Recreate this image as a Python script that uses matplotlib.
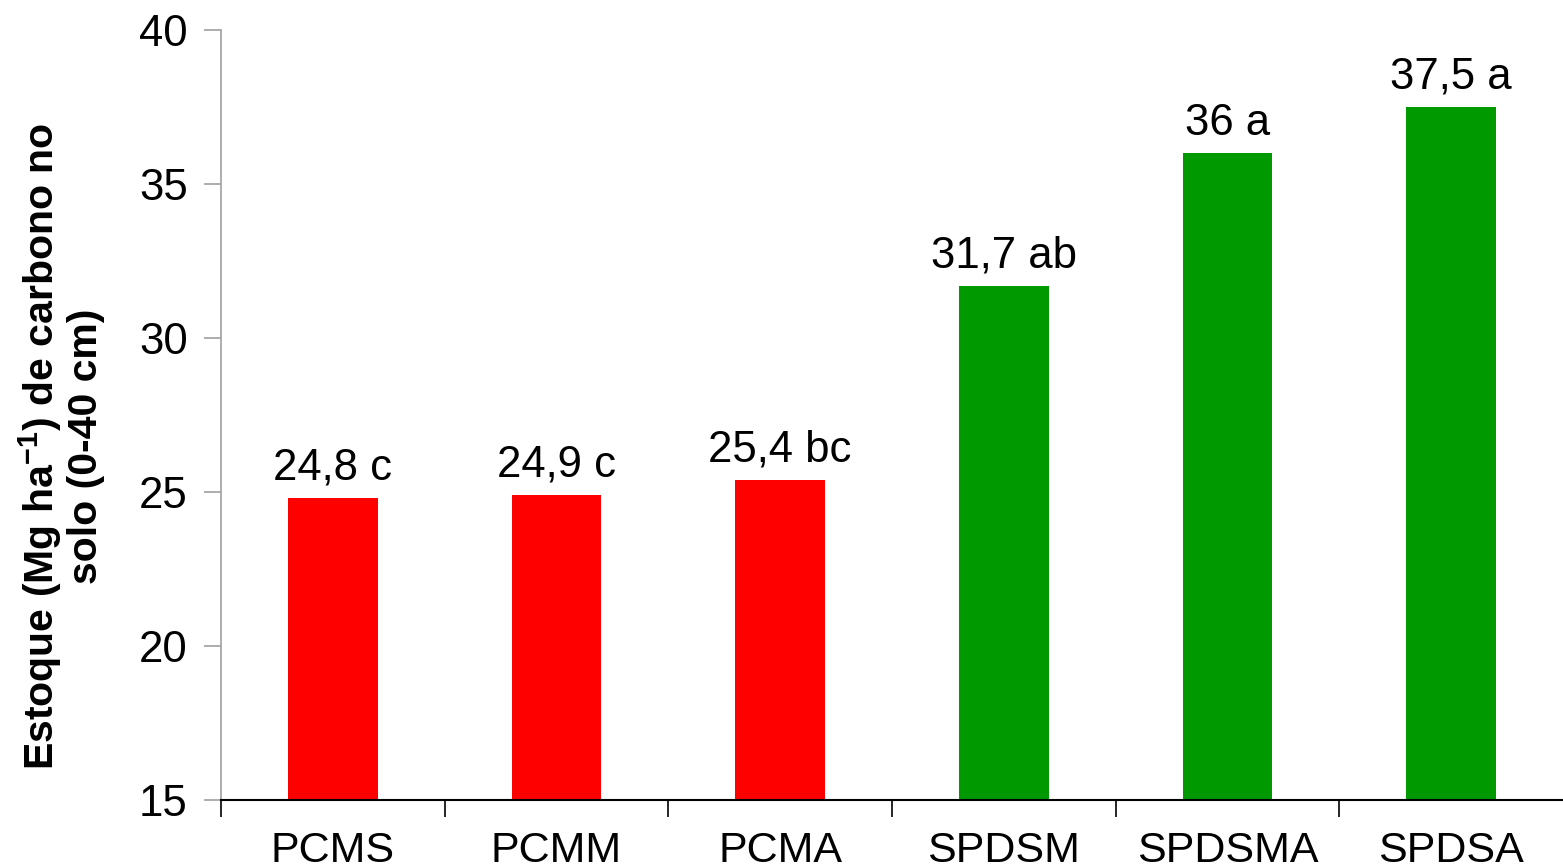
import matplotlib
matplotlib.use("Agg")
import matplotlib.pyplot as plt
import numpy as np

categories = ["PCMS", "PCMM", "PCMA", "SPDSM", "SPDSMA", "SPDSA"]
values = [24.8, 24.9, 25.4, 31.7, 36.0, 37.5]
labels = ["24,8 c", "24,9 c", "25,4 bc", "31,7 ab", "36 a", "37,5 a"]
colors = ["#FF0000", "#FF0000", "#FF0000", "#009900", "#009900", "#009900"]
yticks = [15, 20, 25, 30, 35, 40]

plt.rcParams['font.family'] = ['Liberation Sans', 'DejaVu Sans']
plt.rcParams['mathtext.fontset'] = 'custom'
plt.rcParams['mathtext.rm'] = 'Liberation Sans'
plt.rcParams['mathtext.bf'] = 'Liberation Sans:bold'

fig = plt.figure(figsize=(15.63, 8.67), dpi=100)
ax = fig.add_axes([221/1563, 1 - 800/867, (1563-221)/1563, (800-30)/867])

x = np.arange(len(categories))
bottom = 15
ax.bar(x, np.array(values) - bottom, bottom=bottom, width=0.4, color=colors, zorder=2)
for xi, v, lab in zip(x, values, labels):
    ax.text(xi, v + 0.3, lab, ha='center', va='bottom', fontsize=31.5)

ax.set_xlim(-0.5, len(categories) - 0.5)
ax.set_ylim(15, 40)
ax.set_yticks(yticks)
ax.set_yticklabels([str(t) for t in yticks], fontsize=31.5)
ax.set_xticks(x)
ax.set_xticklabels(categories, fontsize=31)
ax.set_xticks(np.arange(-0.5, len(categories) - 0.5, 1.0), minor=True)
ax.tick_params(axis='x', which='major', length=0, pad=22)
ax.tick_params(axis='x', which='minor', length=12, width=1.2, color='black', direction='out')
ax.tick_params(axis='y', length=12, width=1.2, color='#a0a0a0', direction='out', pad=12)

for s in ['top', 'right']:
    ax.spines[s].set_visible(False)
ax.spines['left'].set_color('#a0a0a0')
ax.spines['left'].set_linewidth(1.2)
ax.spines['bottom'].set_color('black')
ax.spines['bottom'].set_linewidth(1.5)

fig.text(61/1563, 1 - 446/867, "Estoque (Mg ha$^{\\mathbf{-1}}$) de carbono no\nsolo (0-40 cm)",
         rotation=90, ha='center', va='center', fontsize=29.5, fontweight='bold',
         linespacing=1.1, multialignment='center')

fig.savefig("out.png", dpi=100)
